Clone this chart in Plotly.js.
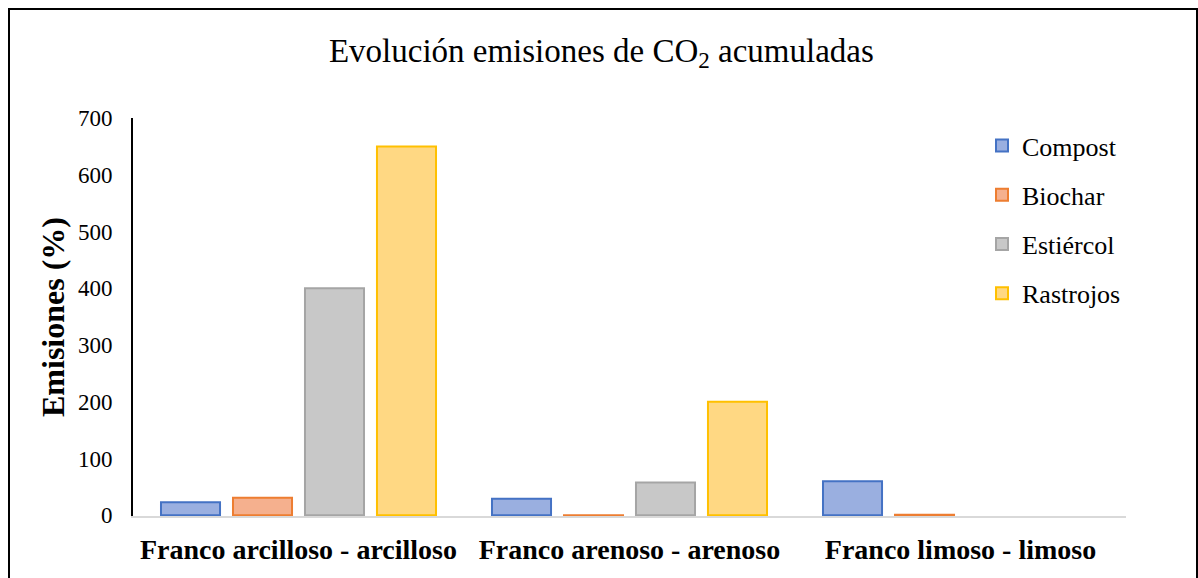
<!DOCTYPE html>
<html>
<head>
<meta charset="utf-8">
<script src="https://cdn.plot.ly/plotly-3.0.1.min.js"></script>
<style>html,body{margin:0;padding:0;background:#fff;}#chart{width:1198px;height:578px;}</style>
</head>
<body>
<div id="chart"></div>
<script>
const categories = ["Franco arcilloso - arcilloso", "Franco arenoso - arenoso", "Franco limoso - limoso"];
const compost = [23, 29, 60];
const biochar = [31, -1, 1];
const estiercol = [400, 58, null];
const rastrojos = [650, 200, null];
const seriesNames = ["Compost", "Biochar", "Estiércol", "Rastrojos"];
const yTicks = [0, 100, 200, 300, 400, 500, 600, 700];

const FF = '"Liberation Serif", "Times New Roman", serif';
const fills = ["#9aafe0", "#f5b08e", "#c8c8c8", "#ffd883"];
const borders = ["#4472c4", "#ed7d31", "#a5a5a5", "#ffc000"];
const values = [compost, biochar, estiercol, rastrojos];

const traces = values.map((v, i) => ({
  type: "bar",
  name: seriesNames[i],
  x: categories,
  y: v,
  legendgroup: "g" + i,
  marker: {color: fills[i], line: {color: borders[i], width: 2}},
  hoverinfo: "x+y+name"
}));

const L = 133, R = 1126, T = 118, B = 516;
const pw = R - L, ph = B - T;
const px = x => (x - L) / pw;
const py = y => (B - y) / ph;

const layout = {
  width: 1198, height: 578,
  margin: {l: L, r: 1198 - R, t: T, b: 578 - B},
  paper_bgcolor: "#fff", plot_bgcolor: "#fff",
  font: {family: FF, color: "#000"},
  title: {
    text: "Evolución emisiones de CO<sub>2</sub> acumuladas",
    font: {size: 33, family: FF, color: "#000"},
    x: 0.502, xanchor: "center", xref: "container",
    y: 1 - 50 / 578, yanchor: "middle", yref: "container"
  },
  barmode: "group",
  bargap: 0.13,
  bargroupgap: 0.18,
  xaxis: {
    type: "category",
    showline: true, linecolor: "#d9d9d9", linewidth: 2,
    ticks: "", showgrid: false, zeroline: false,
    tickfont: {size: 28, family: FF, color: "#000", weight: "bold"},
    ticklabelstandoff: 7
  },
  yaxis: {
    range: [-1.2, 700],
    tickvals: yTicks,
    showline: true, linecolor: "#000", linewidth: 2,
    ticks: "", showgrid: false, zeroline: false,
    tickfont: {size: 23, family: FF, color: "#000"},
    ticklabelstandoff: 14,
    title: {text: "<b>Emisiones (%)</b>", font: {size: 32, family: FF, color: "#000"}, standoff: 4}
  },
  legend: {
    x: px(982), xanchor: "left",
    y: py(122), yanchor: "top",
    font: {size: 26, family: FF, color: "#000"},
    traceorder: "grouped",
    tracegroupgap: 12.5,
    bgcolor: "rgba(0,0,0,0)",
    itemwidth: 30
  },
  shapes: [{
    type: "rect", xref: "paper", yref: "paper",
    x0: px(9), x1: px(1197), y0: py(600), y1: py(9),
    line: {color: "#000", width: 2}, fillcolor: "rgba(0,0,0,0)", layer: "above"
  }],
  showlegend: true
};

Plotly.newPlot("chart", traces, layout, {displayModeBar: false, staticPlot: true});
</script>
</body>
</html>
